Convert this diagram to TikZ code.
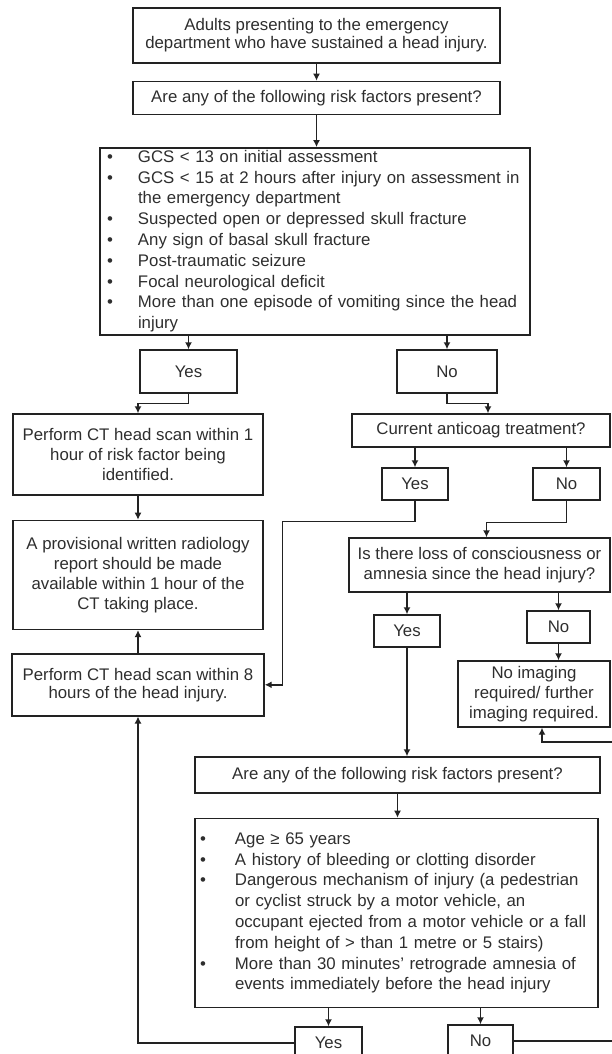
\documentclass[tikz,border=0pt]{standalone}
\usepackage{fontspec}
\setmainfont{Liberation Sans}
\usetikzlibrary{positioning}
\usetikzlibrary{arrows.meta}

\definecolor{boxline}{HTML}{222222}
\definecolor{boxtext}{HTML}{2E2E2E}
\setlength{\parindent}{0pt}
\newcommand{\bul}[1][31pt]{\makebox[#1][l]{•}}

\tikzset{
	flowbox/.style={draw=boxline, line width=1.4pt, text=boxtext, align=center, inner sep=0pt, font=\fontsize{16.8}{20}\selectfont},
	listbox/.style={flowbox, align=left, font=\fontsize{16.8}{20.8}\selectfont},
	arr/.style={draw=boxline, line width=1.4pt, -{Latex[length=7pt,width=7pt]}},
}

\begin{document}
\begin{tikzpicture}[x=1pt, y=-1pt]

	\useasboundingbox (0,0) rectangle (612,1054);
	\clip (0,0) rectangle (612,1054);

	% first branch
	\node (adults) [flowbox, minimum width=367pt, minimum height=55pt, font=\fontsize{16.8}{18}\selectfont] at (316.5,35.5) {Adults presenting to the emergency\\department who have sustained a head injury.};
	\node (risk1) [flowbox, minimum width=367pt, minimum height=33pt, below=17pt of adults] {Are any of the following risk factors present?};
	\node (list1) [listbox, minimum width=430pt, minimum height=183pt, text width=416pt, inner xsep=7pt, below=32pt of risk1, xshift=-1.5pt] {%
		\begin{tabular}{@{}l@{}l@{}}
			\bul & GCS < 13 on initial assessment\\
			\bul & GCS < 15 at 2 hours after injury on assessment in\\
			     & the emergency department\\
			\bul & Suspected open or depressed skull fracture\\
			\bul & Any sign of basal skull fracture\\
			\bul & Post-traumatic seizure\\
			\bul & Focal neurological deficit\\
			\bul & More than one episode of vomiting since the head\\
			     & injury
		\end{tabular}};

	\node (yes1) [flowbox, minimum width=97pt, minimum height=43pt] at (188.5,371.5) {Yes};
	\node (no1) [flowbox, minimum width=100pt, minimum height=43pt] at (447,371.5) {No};

	\node (ct1) [flowbox, minimum width=250pt, minimum height=81pt] at (138,454.5) {Perform CT head scan within 1\\hour of risk factor being\\identified.};
	\node (report) [flowbox, minimum width=250pt, minimum height=109pt, below=24pt of ct1] {A provisional written radiology\\report should be made\\available within 1 hour of the\\CT taking place.};
	\node (ct8) [flowbox, minimum width=252pt, minimum height=62pt, font=\fontsize{16.8}{18}\selectfont, below=23pt of report] {Perform CT head scan within 8\\hours of the head injury.};

	% anticoagulation branch
	\node (anticoag) [flowbox, minimum width=258pt, minimum height=33pt] at (481,430.5) {Current anticoag treatment?};
	\node (yes2) [flowbox, minimum width=66pt, minimum height=32pt] at (415,484) {Yes};
	\node (no2) [flowbox, minimum width=67pt, minimum height=32pt] at (566.5,484) {No};

	\node (loc) [flowbox, minimum width=261pt, minimum height=54pt] at (479.5,565) {Is there loss of consciousness or\\amnesia since the head injury?};
	\node (yes3) [flowbox, minimum width=66pt, minimum height=32pt] at (407,631) {Yes};
	\node (no3) [flowbox, minimum width=63pt, minimum height=32pt] at (558.5,627) {No};
	\node (noimg) [flowbox, minimum width=152pt, minimum height=66pt] at (534,694) {No imaging\\required/ further\\imaging required.};

	% second risk factors
	\node (risk2) [flowbox, minimum width=405pt, minimum height=36pt] at (397.5,775) {Are any of the following risk factors present?};
	\node (list2) [listbox, minimum width=403pt, minimum height=189pt, text width=393pt, inner xsep=5pt, below=24pt of risk2, xshift=-1pt] {%
		\begin{tabular}{@{}l@{}l@{}}
			\bul[35pt] & Age ≥ 65 years\\
			\bul[35pt] & A history of bleeding or clotting disorder\\
			\bul[35pt] & Dangerous mechanism of injury (a pedestrian\\
			           & or cyclist struck by a motor vehicle, an\\
			           & occupant ejected from a motor vehicle or a fall\\
			           & from height of > than 1 metre or 5 stairs)\\
			\bul[35pt] & More than 30 minutes’ retrograde amnesia of\\
			           & events immediately before the head injury
		\end{tabular}};
	\node (yes4) [flowbox, minimum width=67pt, minimum height=32pt] at (328.5,1043) {Yes};
	\node (no4) [flowbox, minimum width=65pt, minimum height=32pt] at (480.5,1041) {No};
	\coordinate (outer) at (626,742);

	% connectors
	\path[arr] (adults) -- (risk1);
	\path[arr] (risk1) -- (list1.north -| risk1);
	\path[arr] (list1.south -| yes1) -- (yes1);
	\path[arr] (list1.south -| no1) -- (no1);
	\path[arr] (yes1.south) -- ++(0,10) -| (ct1.north);
	\path[arr] (ct1) -- (report);
	\path[arr] (ct8) -- (report);

	\path[arr] (no1.south) -- ++(0,10) -| ([xshift=7pt]anticoag.north);
	\path[arr] (anticoag.south -| yes2) -- (yes2);
	\path[arr] (anticoag.south -| no2) -- (no2);
	\path[arr] (yes2.south) -- ++(0,21) -| ([xshift=18pt]ct8.east) -- (ct8.east);
	\path[arr] (no2.south) -- ++(0,22) -| ([xshift=7pt]loc.north);
	\path[arr] (loc.south -| yes3) -- (yes3);
	\path[arr] (loc.south -| no3) -- (no3);
	\path[arr] (no3.south) -- (no3.south |- noimg.north);

	\path[arr] (yes3.south) -- (yes3.south |- risk2.north);
	\path[arr] (risk2) -- (risk2.south |- list2.north);
	\path[arr] (list2.south -| yes4) -- (yes4);
	\path[arr] (list2.south -| no4) -- (no4);
	\path[arr] (yes4.west) -| (ct8.south);
	\path[arr] (no4.east) -| (outer) -| ([xshift=8pt]noimg.south);

\end{tikzpicture}
\end{document}
